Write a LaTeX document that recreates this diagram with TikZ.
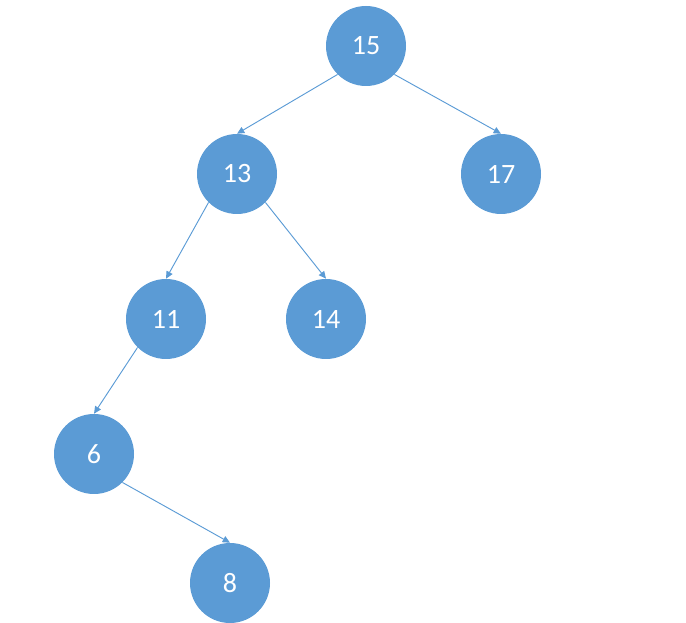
\documentclass[tikz,border=0pt]{standalone}
\usepackage{fontspec}
\setmainfont{Carlito}
\usepackage{xcolor}
\usepackage{tikz}
\usetikzlibrary{arrows.meta}
\definecolor{keyblue}{HTML}{5B9BD5}

\begin{document}
\begin{tikzpicture}[x=0.75pt, y=-0.75pt, every node/.style={font=\fontsize{21}{24}\selectfont}, key/.style={circle, fill=keyblue, text=white, inner sep=0pt, minimum size=60pt}, link/.style={draw=keyblue, line width=0.7pt, -{Triangle[length=5.5pt, width=5pt]}}]
\useasboundingbox (0,0) rectangle (686,623);
\node[key] (k15) at (366,46) {15};
\node[key] (k13) at (237,174) {13};
\node[key] (k17) at (501,174) {17};
\node[key] (k11) at (166,319) {11};
\node[key] (k14) at (326,319) {14};
\node[key] (k6) at (94,454) {6};
\node[key] (k8) at (230,583) {8};
\draw[link] (k15.south west) -- (k13.north);
\draw[link] (k15.south east) -- (k17.north);
\draw[link] (k13.south west) -- (k11.north);
\draw[link] (k13.south east) -- (k14.north);
\draw[link] (k11.south west) -- (k6.north);
\draw[link] (k6.south east) -- (k8.north);
\end{tikzpicture}
\end{document}
